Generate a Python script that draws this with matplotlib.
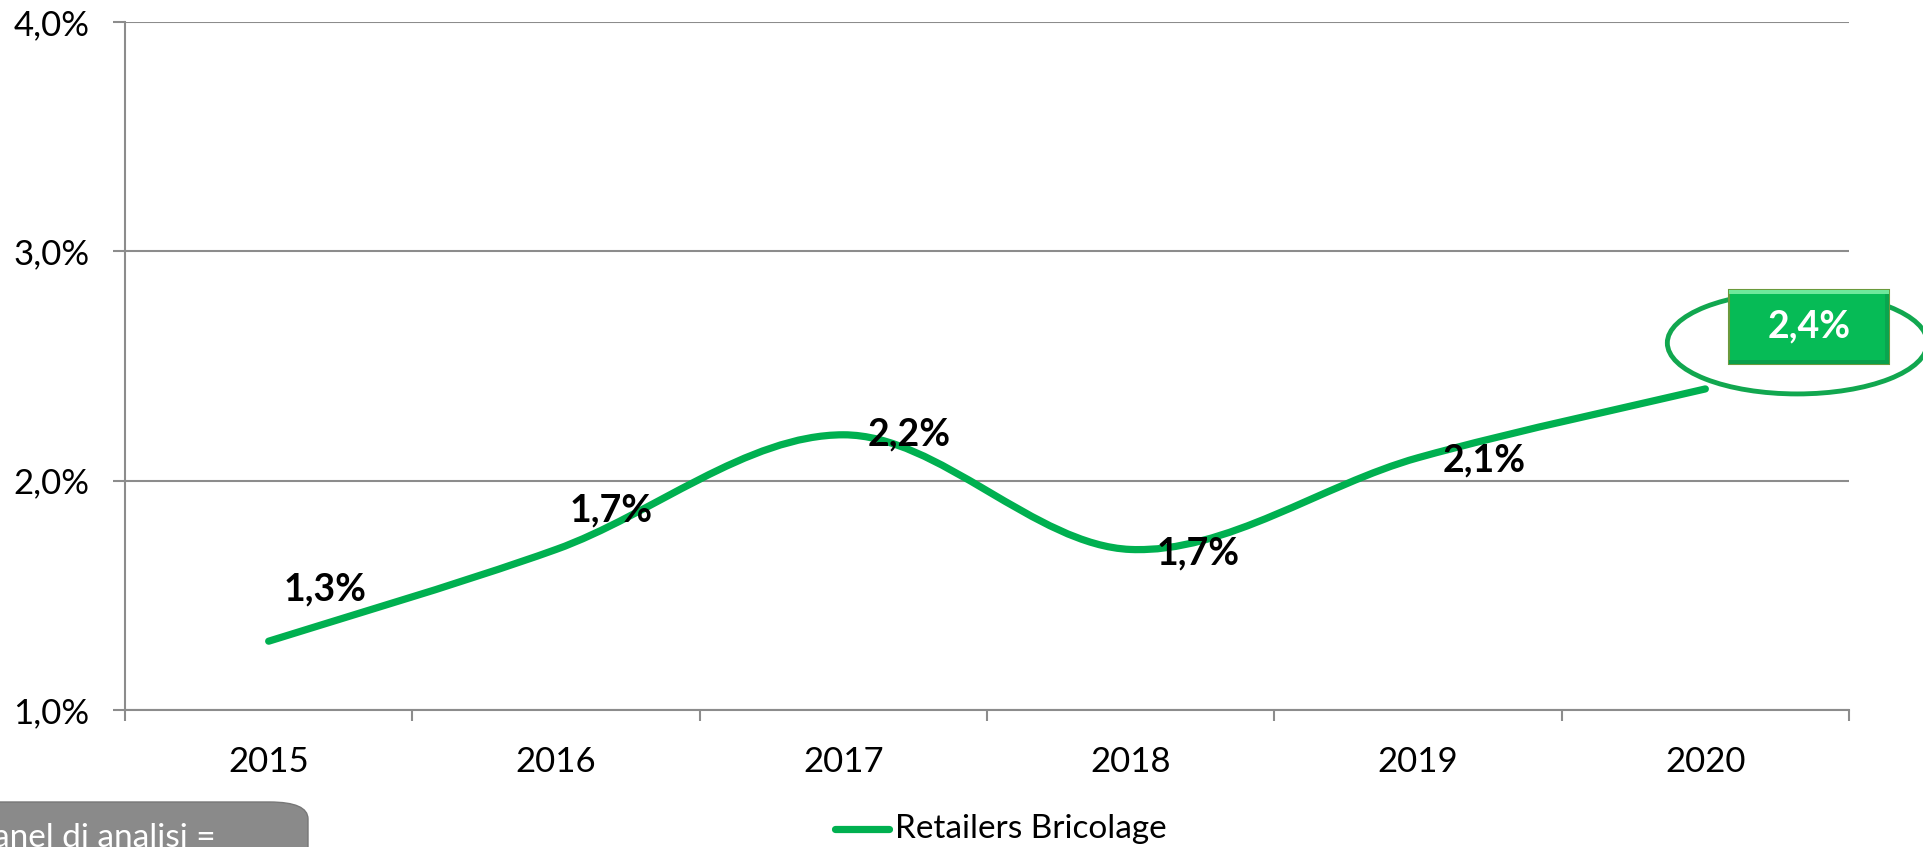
import matplotlib
matplotlib.use("Agg")
import matplotlib.pyplot as plt
from matplotlib.path import Path
from matplotlib.patches import PathPatch, Ellipse, FancyBboxPatch, Rectangle
import numpy as np

years = ["2015", "2016", "2017", "2018", "2019", "2020"]
values = [1.3, 1.7, 2.2, 1.7, 2.1, 2.4]
labels = ["1,3%", "1,7%", "2,2%", "1,7%", "2,1%", "2,4%"]
yticks = [1.0, 2.0, 3.0, 4.0]
ytick_labels = ["1,0%", "2,0%", "3,0%", "4,0%"]
series_name = "Retailers Bricolage"
panel_text = "Panel di analisi = "

GREEN = "#00B050"
GRID = "#8c8c8c"
FONT = "Lato"

W, H = 1924, 847
fig = plt.figure(figsize=(W / 100, H / 100), dpi=100)
ax = fig.add_axes([125 / W, (H - 710) / H, (1849 - 125) / W, (710 - 22) / H])

x = np.arange(len(values), dtype=float)
y = np.array(values)

# smooth (Catmull-Rom style, as in Excel's smoothed line)
verts = [(x[0], y[0])]
codes = [Path.MOVETO]
n = len(x)
for i in range(n - 1):
    p0 = np.array([x[max(i - 1, 0)], y[max(i - 1, 0)]])
    p1 = np.array([x[i], y[i]])
    p2 = np.array([x[i + 1], y[i + 1]])
    p3 = np.array([x[min(i + 2, n - 1)], y[min(i + 2, n - 1)]])
    c1 = p1 + (p2 - p0) / 6
    c2 = p2 - (p3 - p1) / 6
    verts += [tuple(c1), tuple(c2), tuple(p2)]
    codes += [Path.CURVE4] * 3
ax.add_patch(PathPatch(Path(verts, codes), facecolor="none", edgecolor=GREEN,
                       lw=5.2, capstyle="round", joinstyle="round", zorder=3))

ax.set_xlim(-0.5, n - 0.5)
ax.set_ylim(1.0, 4.0)
ax.set_yticks(yticks)
ax.set_yticklabels(ytick_labels, fontsize=25, family=FONT)
ax.set_xticks(x)
ax.set_xticklabels(years, fontsize=25, family=FONT)
ax.set_xticks(np.arange(-0.5, n, 1.0), minor=True)
ax.tick_params(axis="x", which="major", length=0, pad=26)
ax.tick_params(axis="x", which="minor", length=8, width=1.5, color=GRID)
ax.tick_params(axis="y", length=8.6, width=1.5, color=GRID, pad=17)
ax.grid(axis="y", color=GRID, lw=1.5, zorder=0)
for s in ["top", "right"]:
    ax.spines[s].set_visible(False)
for s in ["left", "bottom"]:
    ax.spines[s].set_color(GRID)
    ax.spines[s].set_linewidth(1.5)

# data labels (offsets in pixels)
offsets = [(56, 52), (55, 39), (66, 0), (67, -4), (66, -3)]
for i, (dx, dy) in enumerate(offsets):
    ax.annotate(labels[i], (x[i], y[i]), xytext=(dx, dy), textcoords="offset pixels",
                ha="center", va="center", fontsize=27, fontweight="bold",
                family=FONT, color="black", zorder=5)

# highlighted last value
bx, by = x[-1], y[-1]
px, py = ax.transData.transform((bx, by))
inv = ax.transData.inverted()
cx, cy = inv.transform((px + 104, py + 62))
ex, ey = inv.transform((px + 92, py + 46))
w_data = inv.transform((px + 260, py))[0] - bx
h_data = inv.transform((px, py + 102))[1] - by
ax.add_patch(Ellipse((ex, ey), w_data, h_data, facecolor="none", edgecolor="#11a74f",
                     lw=3.5, zorder=6, clip_on=False))
bw = inv.transform((px + 160, py))[0] - bx
bh = inv.transform((px, py + 74))[1] - by
ax.add_patch(Rectangle((cx - bw / 2, cy - bh / 2), bw, bh,
                       facecolor="#06bb56", edgecolor="#6b9a3c", lw=1.5, zorder=7,
                       clip_on=False))
band = inv.transform((px, py + 4))[1] - by
bandx = inv.transform((px + 4, py))[0] - bx
ax.add_patch(Rectangle((cx - bw / 2, cy + bh / 2 - band), bw, band,
                       facecolor="#6ee89c", edgecolor="none", zorder=7.5, clip_on=False))
ax.add_patch(Rectangle((cx - bw / 2, cy - bh / 2), bw, band,
                       facecolor="#0a9f4c", edgecolor="none", zorder=7.5, clip_on=False))
ax.add_patch(Rectangle((cx + bw / 2 - bandx, cy - bh / 2), bandx, bh,
                       facecolor="#0aa54f", edgecolor="none", zorder=7.4, clip_on=False))
ax.text(cx, cy, labels[-1], ha="center", va="center", fontsize=27, fontweight="bold",
        family=FONT, color="white", zorder=8, clip_on=False)

# legend
fig.lines.append(plt.Line2D([835 / W, 889 / W], [(H - 829) / H] * 2, transform=fig.transFigure,
                            color=GREEN, lw=5.2, solid_capstyle="round"))
fig.text(895 / W, (H - 829) / H, series_name, ha="left", va="center", fontsize=24,
         family=FONT)

# panel box (cut off at bottom-left)
fig.patches.append(FancyBboxPatch((-40 / W, (H - 870) / H), 348 / W, 68 / H,
                                  boxstyle="round,pad=0,rounding_size=0.02",
                                  transform=fig.transFigure, facecolor="#8a8a8a",
                                  edgecolor="#777777", lw=1))
fig.text(-27 / W, (H - 838) / H, panel_text, ha="left", va="center", fontsize=24,
         family=FONT, color="white")

fig.savefig("out.png", dpi=100)
